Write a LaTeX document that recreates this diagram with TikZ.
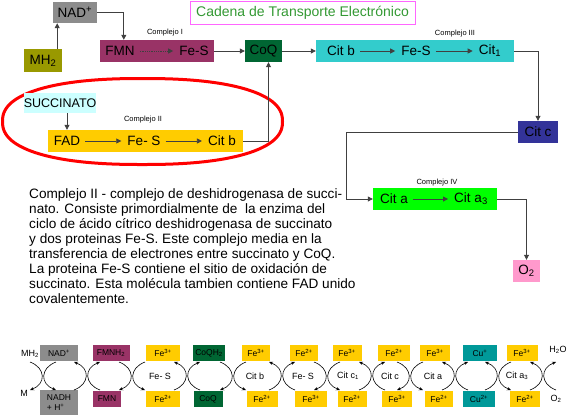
\documentclass[tikz,border=0pt]{standalone}
\usepackage{fontspec}
\setmainfont{Liberation Sans}
\usetikzlibrary{arrows.meta,positioning,calc,shapes.geometric}

\definecolor{nadgray}{HTML}{8C8C8C}
\definecolor{mholive}{HTML}{999900}
\definecolor{fmnpurple}{HTML}{993366}
\definecolor{coqgreen}{HTML}{006633}
\definecolor{citcyan}{HTML}{33CCCC}
\definecolor{citblue}{HTML}{333399}
\definecolor{cuatro}{HTML}{00FF00}
\definecolor{oxpink}{HTML}{FF99CC}
\definecolor{succcyan}{HTML}{CCFFFF}
\definecolor{fegold}{HTML}{FFCC00}
\definecolor{cuteal}{HTML}{009999}
\definecolor{titlegreen}{HTML}{339933}
\definecolor{titlemag}{HTML}{FF66FF}

\begin{document}
\begin{tikzpicture}[x=1pt, y=-1pt,
    box/.style={rectangle, inner sep=0pt, minimum height=22pt, font=\fontsize{13.5}{15}\selectfont},
    lbl/.style={inner sep=1pt, font=\fontsize{13.5}{15}\selectfont},
    tag/.style={inner sep=0pt, font=\fontsize{7.5}{9}\selectfont},
    arrow/.style={-{Triangle[length=5pt,width=5pt]}, line width=0.8pt, draw=black!75},
    inarrow/.style={arrow, shorten <=4pt, shorten >=5pt},
    para/.style={align=left, inner sep=0pt, font=\fontsize{13.6}{15}\selectfont},
    sbox/.style={rectangle, inner sep=0pt, minimum height=16pt, font=\fontsize{8.5}{10}\selectfont},
    slbl/.style={inner sep=0pt, font=\fontsize{9}{10}\selectfont},
    cross/.style={line width=0.6pt},
    arcUp/.style={{Stealth[length=4pt,width=3.5pt]}-},
    arcDn/.style={-{Stealth[length=4pt,width=3.5pt]}}
]
    \useasboundingbox (0,0) rectangle (578,416);

    % Complex II ring
    \draw[red, line width=3pt] plot[domain=0:360, samples=120, smooth cycle]
        ({142.5+140*sign(cos(\x))*(abs(cos(\x))+0.00001)^0.85},
         {121.5+43*sign(sin(\x))*(abs(sin(\x))+0.00001)^0.85});

    % Title
    \node[draw=titlemag, line width=1pt, fill=white, text=titlegreen, minimum width=225pt, minimum height=23pt, font=\fontsize{14}{16}\selectfont] (title) at (302.5,12.5) {Cadena de Transporte Electrónico};

    % Complex I
    \node[box, fill=nadgray, minimum width=44pt, minimum height=21pt] (nad) at (75,12.5) {NAD\textsuperscript{+}};
    \node[box, fill=mholive, minimum width=38pt, minimum height=23pt] (mh2) at (43,60.5) {MH\textsubscript{2}};
    \node[box, fill=fmnpurple, minimum width=114pt] (cI) at (157,51) {};
    \node[lbl] (fmn) at (120,51) {FMN};
    \node[lbl] (fes1) at (194,51) {Fe-S};
    \node[tag] (tagI) at (165,33) {Complejo I};
    \node[box, fill=coqgreen, minimum width=37pt] (coq) at (263.5,51) {CoQ};

    % Complex III
    \node[box, fill=citcyan, minimum width=198pt] (cIII) at (415,51) {};
    \node[lbl] (citb) at (341,51) {Cit b};
    \node[lbl] (fes3) at (416,51) {Fe-S};
    \node[lbl] (cit1) at (490,51) {Cit\textsubscript{1}};
    \node[tag] (tagIII) at (455,34) {Complejo III};
    \node[box, fill=citblue, minimum width=40pt] (citc) at (538,132) {Cit c};

    % Complex IV
    \node[box, fill=cuatro, minimum width=124pt] (cIV) at (435,199) {};
    \node[lbl] (cita) at (394,199) {Cit a};
    \node[lbl] (cita3) at (471,199) {Cit a\textsubscript{3}};
    \node[tag] (tagIV) at (437,183) {Complejo IV};
    \node[box, fill=oxpink, minimum width=27pt] (o2) at (526.5,271) {O\textsubscript{2}};

    % Complex II
    \node[box, fill=succcyan, minimum width=70pt, minimum height=20pt, font=\fontsize{12.5}{14}\selectfont] (succ) at (60,103) {SUCCINATO};
    \node[box, fill=fegold, minimum width=195pt] (cII) at (145.5,141) {};
    \node[lbl] (fad) at (67,141) {FAD};
    \node[lbl] (fes2) at (144,141) {Fe- S};
    \node[lbl] (citb2) at (222,141) {Cit b};
    \node[tag] (tagII) at (143,120) {Complejo II};

    % Connections
    \coordinate (mhTop) at ([xshift=-5pt]mh2.north east);
    \coordinate (fmnIn) at ([xshift=24pt]cI.north west);
    \coordinate (turnIV) at ([xshift=-26pt]cIV.west);
    \coordinate (succOut) at ([xshift=7pt]succ.south);
    \coordinate (coqIn) at ([xshift=5pt]coq.south);
    \draw[arrow] (mhTop) -- (mhTop |- nad.south);
    \draw[arrow] (nad.east) -| (fmnIn);
    \draw[inarrow, densely dotted] (fmn.east) -- (fes1.west);
    \draw[arrow] (cI.east) -- (coq.west);
    \draw[arrow] (coq.east) -- (cIII.west);
    \draw[inarrow] (citb.east) -- (fes3.west);
    \draw[inarrow] (fes3.east) -- (cit1.west);
    \draw[arrow] (cIII.east) -| (citc.north);
    \draw[arrow] (citc.west) -| (turnIV) -- (cIV.west);
    \draw[inarrow] (cita.east) -- (cita3.west);
    \draw[arrow] (cIV.east) -| (o2.north);
    \draw[arrow] (succOut) -- (succOut |- cII.north);
    \draw[inarrow] (fad.east) -- (fes2.west);
    \draw[inarrow] (fes2.east) -- (citb2.west);
    \draw[arrow] (cII.east) -| (coqIn);

    % Description
    \node[para, anchor=north west] (desc) at (29,188) {Complejo II - complejo de deshidrogenasa de succi-\\
        nato. Consiste primordialmente de\ \ la enzima del\\
        ciclo de ácido cítrico deshidrogenasa de succinato\\
        y dos proteinas Fe-S. Este complejo media en la\\
        transferencia de electrones entre succinato y CoQ.\\
        La proteina Fe-S contiene el sitio de oxidación de\\
        succinato. Esta molécula tambien contiene FAD unido\\
        covalentemente.};

    % Redox chain: upper row
    \foreach \nm/\cx/\w/\col/\txt in {nadT/59/38/nadgray/NAD\textsuperscript{+},
        fmnT/111/37/fmnpurple/FMNH\textsubscript{2}, fesT/163/34/fegold/Fe\textsuperscript{3+},
        coqT/209/32/coqgreen/CoQH\textsubscript{2}, cbT/256/28/fegold/Fe\textsuperscript{3+},
        fsT/304/28/fegold/Fe\textsuperscript{2+}, cc1T/347/29/fegold/Fe\textsuperscript{3+},
        ccT/394/32/fegold/Fe\textsuperscript{2+}, caT/435/30/fegold/Fe\textsuperscript{3+},
        cuT/480/34/cuteal/Cu\textsuperscript{+}, ca3T/522/31/fegold/Fe\textsuperscript{3+}}
        \node[sbox, fill=\col, minimum width=\w pt] (\nm) at (\cx,353) {\txt};

    % Redox chain: lower row
    \node[sbox, fill=nadgray, minimum width=38pt, minimum height=25pt, align=left] (nadB) at (59,402.5) {NADH\\+ H\textsuperscript{+}};
    \foreach \nm/\cx/\w/\col/\txt in {fmnB/107/28/fmnpurple/FMN,
        fesB/163/34/fegold/Fe\textsuperscript{2+}, coqB/208/29/coqgreen/CoQ,
        cbB/262/31/fegold/Fe\textsuperscript{2+}, fsB/311/32/fegold/Fe\textsuperscript{3+},
        cc1B/352/29/fegold/Fe\textsuperscript{2+}, ccB/397/30/fegold/Fe\textsuperscript{3+},
        caB/439/28/fegold/Fe\textsuperscript{2+}, cuB/479/32/cuteal/Cu\textsuperscript{2+},
        ca3B/525/30/fegold/Fe\textsuperscript{2+}}
        \node[sbox, fill=\col, minimum width=\w pt] (\nm) at (\cx,399) {\txt};

    % Redox chain: carriers
    \node[slbl] (mhL) at (30,354) {MH\textsubscript{2}};
    \node[slbl] (mL) at (24,393) {M};
    \node[slbl] (feL1) at (160,376) {Fe- S};
    \node[slbl] (cbL) at (255,376) {Cit b};
    \node[slbl] (feL2) at (303,376) {Fe- S};
    \node[slbl] (cc1L) at (348,376) {Cit c\textsubscript{1}};
    \node[slbl] (ccL) at (390,376) {Cit c};
    \node[slbl] (caL) at (433,376) {Cit a};
    \node[slbl] (ca3L) at (517,376) {Cit a\textsubscript{3}};
    \node[slbl] (h2oL) at (558,350) {H\textsubscript{2}O};
    \node[slbl] (o2L) at (556,399) {O\textsubscript{2}};

    % Coupled half reactions
    \foreach \c/\lt/\rt in {43/arcDn/arcDn, 87/arcUp/arcUp, 132/arcDn/arcDn, 187/arcUp/arcUp,
        233/arcDn/arcDn, 282/arcUp/arcUp, 327/arcDn/arcDn, 372/arcUp/arcUp,
        410/arcDn/arcDn, 455/arcUp/arcUp, 498/arcUp/arcDn, 543/arcUp/arcUp}{
        \draw[cross, \lt] (\c-13,362) .. controls (\c+3,368) and (\c+3,384) .. (\c-13,390);
        \draw[cross, \rt] (\c+13,362) .. controls (\c-3,368) and (\c-3,384) .. (\c+13,390);
    }
\end{tikzpicture}
\end{document}
